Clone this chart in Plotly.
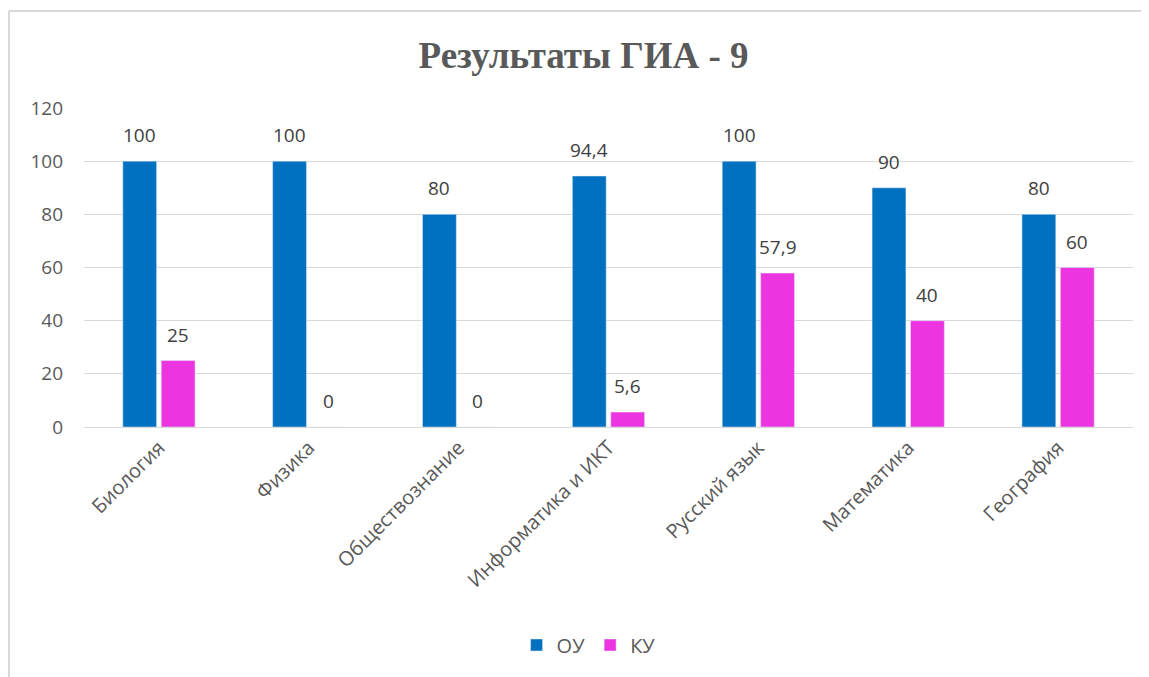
import plotly.graph_objects as go

categories = ["Биология", "Физика", "Обществознание", "Информатика и ИКТ",
              "Русский язык", "Математика", "География"]
ou_values = [100, 100, 80, 94.4, 100, 90, 80]
ku_values = [25, 0, 0, 5.6, 57.9, 40, 60]
series_names = ["ОУ", "КУ"]
series_colors = ["#0070c0", "#ec35e1"]
title_text = "Результаты ГИА - 9"
y_ticks = [0, 20, 40, 60, 80, 100, 120]


def fmt(v):
    return ("%g" % v).replace(".", ",")


font_family = "Open Sans, Lato, sans-serif"

W, H = 1133, 669
ML, MR, MT, MB = 76, 8, 100, 250
BARGAP, BARGROUPGAP = 0.487, 0.12
plot_w = W - ML - MR
plot_h = H - MT - MB
slot = plot_w / len(categories) * (1 - BARGAP) / 2

fig = go.Figure()
for name, vals, col in zip(series_names, [ou_values, ku_values], series_colors):
    fig.add_trace(go.Bar(x=categories, y=vals, name=name, marker_color=col))

annotations = []
for k, vals in enumerate([ou_values, ku_values]):
    shift = (k - 0.5) * slot
    for c, v in zip(categories, vals):
        annotations.append(dict(x=c, y=v, xref="x", yref="y", text=fmt(v),
                                showarrow=False, xshift=shift, yshift=26,
                                yanchor="middle",
                                font=dict(size=19, color="#404040", family=font_family)))

border_x = (1 - ML) / plot_w
border_y = 1 + (MT - 3) / plot_h

fig.update_layout(
    width=W, height=H,
    paper_bgcolor="white", plot_bgcolor="white",
    margin=dict(l=ML, r=MR, t=MT, b=MB),
    barmode="group", bargap=BARGAP, bargroupgap=BARGROUPGAP,
    title=dict(text="<b>" + title_text + "</b>", x=0.508, xanchor="center",
               y=1 - 47 / H, yanchor="middle",
               font=dict(family="Liberation Serif, serif", size=37, color="#595959")),
    font=dict(family=font_family, color="#595959", size=16),
    legend=dict(orientation="h", x=0.481, xanchor="center", y=-(645 - 8 - MT - plot_h) / plot_h,
                yanchor="middle",
                font=dict(size=20, color="#595959"), itemwidth=30,
                traceorder="normal"),
    showlegend=True,
    annotations=annotations,
    shapes=[
        dict(type="line", xref="paper", yref="paper", x0=border_x, x1=1.05,
             y0=border_y, y1=border_y, line=dict(color="#d9d9d9", width=2)),
        dict(type="line", xref="paper", yref="paper", x0=border_x, x1=border_x,
             y0=border_y, y1=-1.0, line=dict(color="#d9d9d9", width=2)),
    ],
)
fig.update_yaxes(range=[0, 120], tickvals=y_ticks, showgrid=True, gridcolor="#d9d9d9",
                 gridwidth=1, zeroline=False, showline=False,
                 tickfont=dict(size=19, color="#595959"),
                 ticks="", ticklabelstandoff=20)
fig.update_xaxes(tickangle=-45, showline=True, linecolor="#d9d9d9", linewidth=1,
                 tickfont=dict(size=20, color="#595959"), ticks="")
fig.write_html("out.html")
